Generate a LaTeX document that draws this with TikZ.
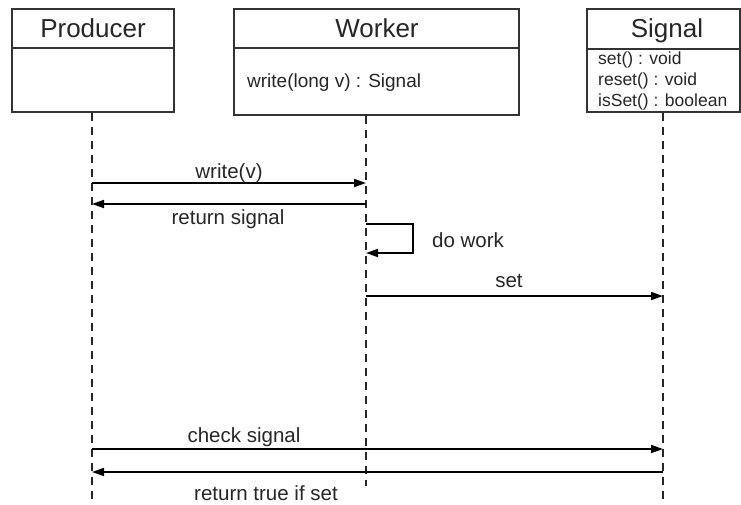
\documentclass[tikz,border=0pt]{standalone}
\usepackage{fontspec}
\setmainfont{Liberation Sans}
\usetikzlibrary{arrows.meta}
\begin{document}
\begin{tikzpicture}[x=1pt,y=-1pt,
  boxline/.style={draw=black!80, line width=1.7pt},
  life/.style={draw=black!85, line width=1.4pt, dash pattern=on 8pt off 6pt},
  msg/.style={draw=black, line width=1.8pt, -{Triangle[length=12pt,width=8pt]}},
  title/.style={font=\fontsize{26}{28}\selectfont, inner sep=0, anchor=base, text=black!85},
  meth/.style={font=\fontsize{17.5}{21}\selectfont, inner sep=0, anchor=base west, text=black!85},
  lbl/.style={font=\fontsize{20.5}{24}\selectfont, inner sep=0, anchor=base, text=black!85}]
\useasboundingbox (0,0) rectangle (741,504);

% class boxes
\draw[boxline] (12,9) rectangle (174,112);
\draw[boxline] (12,48) -- (174,48);
\draw[boxline] (234,9) rectangle (519,115);
\draw[boxline] (234,48) -- (519,48);
\draw[boxline] (587,9) rectangle (740,112);
\draw[boxline] (587,49) -- (740,49);

\node[title] (tprod) at (93,37) {Producer};
\node[title] (twork) at (377,37) {Worker};
\node[title] (tsig) at (667,37) {Signal};

\node[meth, font=\fontsize{19}{21}\selectfont] (mw) at (247,87) {write(long v) : Signal};
\node[meth] (ms1) at (598,64) {set() : void};
\node[meth] (ms2) at (598,85) {reset() : void};
\node[meth] (ms3) at (598,106) {isSet() : boolean};

% lifelines
\coordinate (ptop) at (92,113);
\coordinate (pbot) at (92,502);
\coordinate (wtop) at (366,116);
\coordinate (wbot) at (366,486);
\coordinate (stop) at (663,113);
\coordinate (sbot) at (663,502);
\draw[life] (ptop) -- (pbot);
\draw[life] (wtop) -- (wbot);
\draw[life] (stop) -- (sbot);

% message end points
\coordinate (p1) at (92,183);
\coordinate (w1) at (366,183);
\coordinate (p2) at (92,204);
\coordinate (w2) at (366,204);
\coordinate (w3) at (366,224);
\coordinate (w4) at (366,253);
\coordinate (w5) at (366,296);
\coordinate (s5) at (663,296);
\coordinate (p6) at (92,449);
\coordinate (s6) at (663,449);
\coordinate (p7) at (92,472);
\coordinate (s7) at (663,472);

\draw[msg] (p1) -- (w1);
\draw[msg] (w2) -- (p2);
\draw[msg] (w3) -- ++(47,0) |- (w4);
\draw[msg] (w5) -- (s5);
\draw[msg] (p6) -- (s6);
\draw[msg] (s7) -- (p7);

\node[lbl] (l1) at (229,178) {write(v)};
\node[lbl] (l2) at (228,224) {return signal};
\node[lbl, anchor=base west] (l3) at (432,247) {do work};
\node[lbl] (l4) at (509,287) {set};
\node[lbl] (l5) at (244,442) {check signal};
\node[lbl] (l6) at (266,500) {return true if set};
\end{tikzpicture}
\end{document}
